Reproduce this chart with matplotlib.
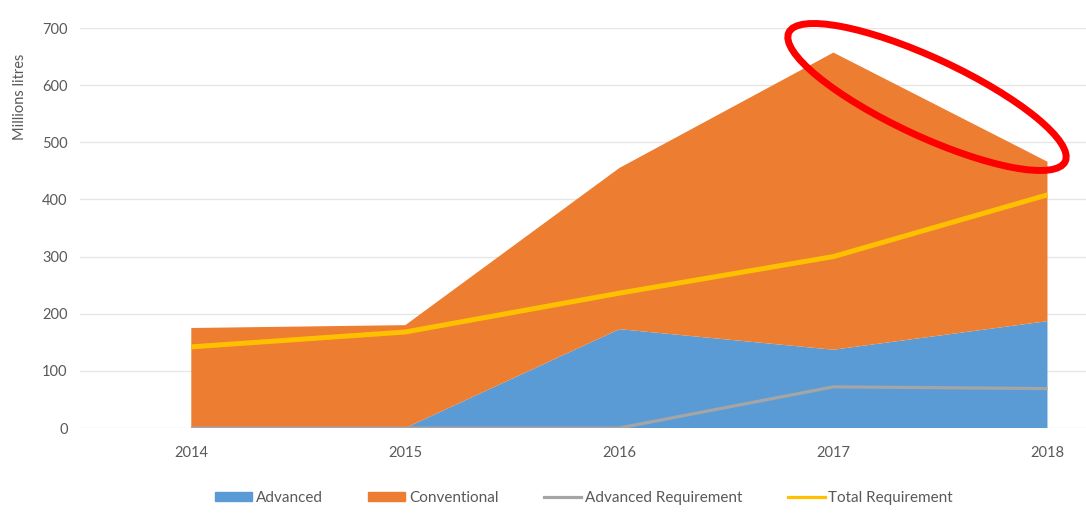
import numpy as np
import matplotlib.pyplot as plt
from matplotlib.patches import Ellipse, Patch
from matplotlib.lines import Line2D
from matplotlib.transforms import IdentityTransform

plt.rcParams['font.family'] = ['Lato', 'DejaVu Sans']

years = [2014, 2015, 2016, 2017, 2018]
advanced = [0, 0, 173, 137, 187]
total_supply = [175, 180, 455, 657, 466]
conventional = [t - a for t, a in zip(total_supply, advanced)]
advanced_req = [0, 0, 0, 72, 69]
total_req = [142, 168, 236, 300, 408]

blue = '#5B9BD5'
orange = '#ED7D31'
grey = '#A5A5A5'
gold = '#FFC000'
text_col = '#595959'

fig = plt.figure(figsize=(10.86, 5.15), dpi=100)
ax = fig.add_axes([80 / 1086, 1 - 428 / 515, 1 - 80 / 1086, (428 - 28) / 515])

ax.stackplot(years, advanced, conventional, colors=[blue, orange], linewidth=0)
ax.plot(years, advanced_req, color=grey, lw=2.3, solid_capstyle='butt')
ax.plot(years, total_req, color=gold, lw=3.6, solid_capstyle='butt')

ax.set_xlim(2014 - 0.52, 2018 + 0.18)
ax.set_ylim(0, 700)
ax.set_xticks(years)
ax.set_yticks(range(0, 701, 100))
ax.grid(axis='y', color='#E6E6E6', lw=1)
ax.set_axisbelow(True)
for s in ax.spines.values():
    s.set_visible(False)
ax.tick_params(length=0, colors=text_col, labelsize=10.5)
ax.tick_params(axis='x', pad=13)
ax.tick_params(axis='y', pad=9)

fig.text(20 / 1086, 1 - 97 / 515, 'Millions litres', rotation=90, ha='center', va='center',
         color=text_col, fontsize=10.5)

handles = [Patch(color=blue), Patch(color=orange),
           Line2D([], [], color=grey, lw=2.3), Line2D([], [], color=gold, lw=2.3)]
labels = ['Advanced', 'Conventional', 'Advanced Requirement', 'Total Requirement']
leg = fig.legend(handles, labels, loc='center', bbox_to_anchor=(584 / 1086, 1 - 498 / 515),
                 ncol=4, frameon=False, fontsize=11, handlelength=2.4, handleheight=0.45,
                 handletextpad=0.25, columnspacing=3.0)
for t in leg.get_texts():
    t.set_color(text_col)

ell = Ellipse((927, 515 - 97), width=305, height=78, angle=-25, fill=False,
              edgecolor='#FF0000', lw=5, transform=IdentityTransform())
fig.patches.append(ell)

fig.savefig('out.png', dpi=100)
